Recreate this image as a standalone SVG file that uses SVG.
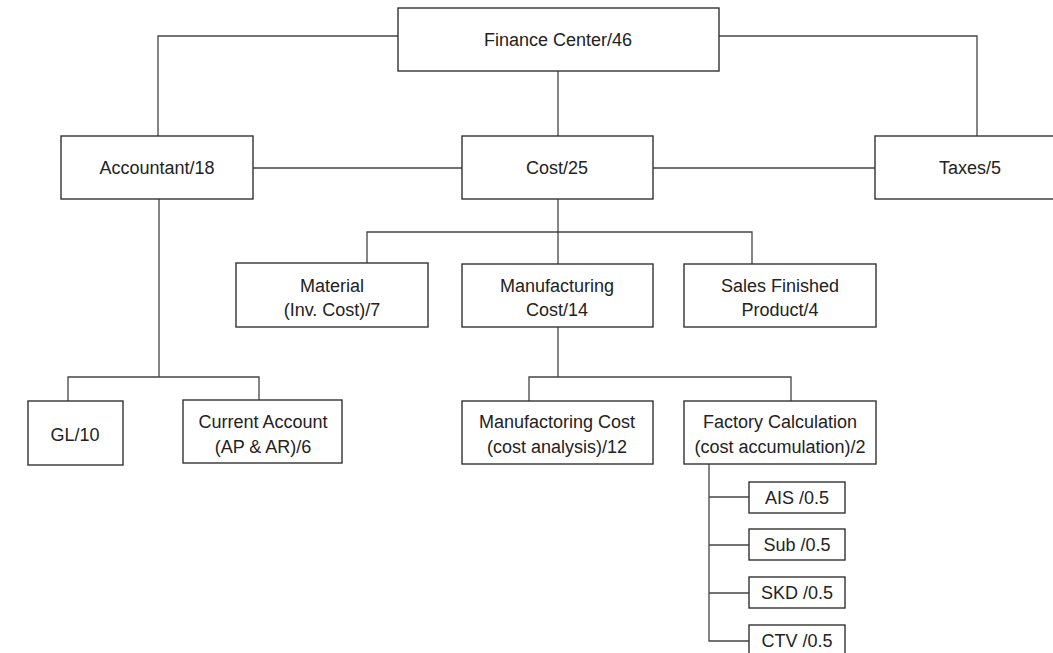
<svg xmlns="http://www.w3.org/2000/svg" width="1053" height="653" viewBox="0 0 1053 653">
<style>
.box{fill:#fff;stroke:#333;stroke-width:1.4}
.ln{fill:none;stroke:#444;stroke-width:1.3}
text{font-family:"Liberation Sans",Arial,sans-serif;font-size:18px;fill:#222;text-anchor:middle}
</style>
<rect width="1053" height="653" fill="#fff"/>
<g id="connectors">
<polyline class="ln" points="398,36 158,36 158,136"/>
<polyline class="ln" points="719,36 977,36 977,136"/>
<line class="ln" x1="558" y1="71" x2="558" y2="136"/>
<line class="ln" x1="253" y1="168" x2="462" y2="168"/>
<line class="ln" x1="653" y1="168" x2="875" y2="168"/>
<line class="ln" x1="558" y1="199" x2="558" y2="264"/>
<polyline class="ln" points="367,263 367,232 752,232 752,264"/>
<line class="ln" x1="159" y1="199" x2="159" y2="377"/>
<polyline class="ln" points="68,401 68,377 259,377 259,400"/>
<line class="ln" x1="558" y1="327" x2="558" y2="377"/>
<polyline class="ln" points="529,401 529,377 791,377 791,401"/>
<polyline class="ln" points="709,464 709,641 749,641"/>
<line class="ln" x1="709" y1="497" x2="749" y2="497"/>
<line class="ln" x1="709" y1="545" x2="749" y2="545"/>
<line class="ln" x1="709" y1="593" x2="749" y2="593"/>
</g>
<g id="finance"><rect class="box" x="398" y="8" width="321" height="63"/><text x="558" y="46">Finance Center/46</text></g>
<g id="accountant"><rect class="box" x="61" y="136" width="192" height="63"/><text x="157" y="174">Accountant/18</text></g>
<g id="cost"><rect class="box" x="462" y="136" width="191" height="63"/><text x="557" y="174">Cost/25</text></g>
<g id="taxes"><rect class="box" x="875" y="136" width="190" height="63"/><text x="970" y="174">Taxes/5</text></g>
<g id="material"><rect class="box" x="236" y="263" width="192" height="64"/><text x="332" y="292">Material</text><text x="332" y="316">(Inv. Cost)/7</text></g>
<g id="manufacturing"><rect class="box" x="462" y="264" width="191" height="63"/><text x="557" y="292">Manufacturing</text><text x="557" y="316">Cost/14</text></g>
<g id="sales"><rect class="box" x="684" y="264" width="192" height="63"/><text x="780" y="292">Sales Finished</text><text x="780" y="316">Product/4</text></g>
<g id="gl"><rect class="box" x="28" y="401" width="95" height="64"/><text x="75" y="441">GL/10</text></g>
<g id="current"><rect class="box" x="183" y="400" width="159" height="63"/><text x="263" y="428">Current Account</text><text x="263" y="453">(AP &amp; AR)/6</text></g>
<g id="manufactoring"><rect class="box" x="462" y="401" width="191" height="63"/><text x="557" y="428">Manufactoring Cost</text><text x="557" y="453">(cost analysis)/12</text></g>
<g id="factory"><rect class="box" x="684" y="401" width="192" height="63"/><text x="780" y="428">Factory Calculation</text><text x="780" y="453">(cost accumulation)/2</text></g>
<g id="ais"><rect class="box" x="749" y="482" width="96" height="31"/><text x="797" y="504">AIS /0.5</text></g>
<g id="sub"><rect class="box" x="749" y="529" width="96" height="31"/><text x="797" y="551">Sub /0.5</text></g>
<g id="skd"><rect class="box" x="749" y="577" width="96" height="31"/><text x="797" y="599">SKD /0.5</text></g>
<g id="ctv"><rect class="box" x="749" y="625" width="96" height="31"/><text x="797" y="647">CTV /0.5</text></g>
</svg>
